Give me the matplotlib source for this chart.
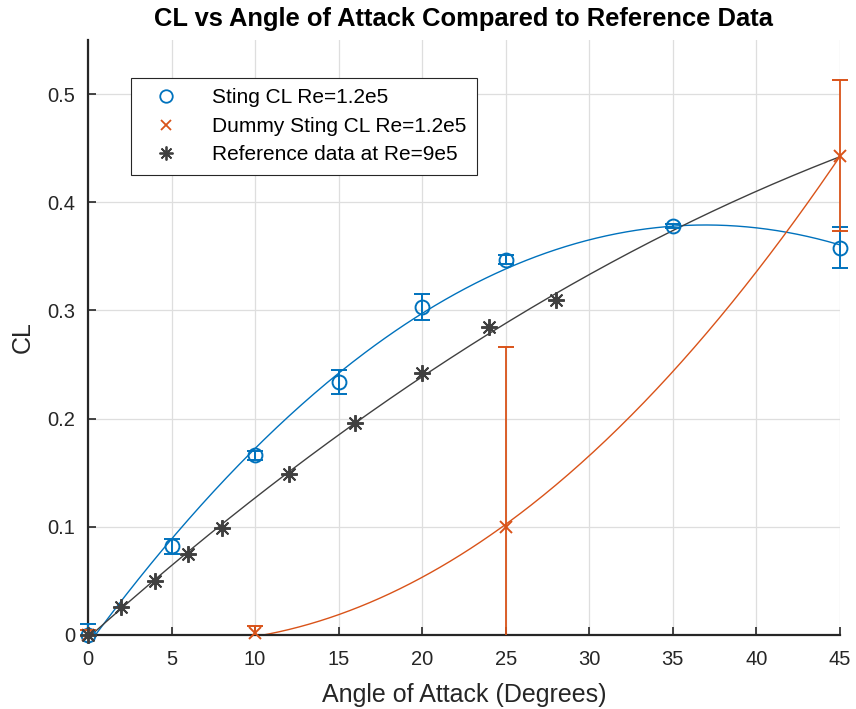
import numpy as np
import matplotlib
matplotlib.use("Agg")
import matplotlib.pyplot as plt
from matplotlib.lines import Line2D
from matplotlib.patches import Rectangle

plt.rcParams['font.family'] = ['Liberation Sans', 'DejaVu Sans']

# Sting CL Re=1.2e5
aoa_sting = [0, 5, 10, 15, 20, 25, 35, 45]
cl_sting = [0.0, 0.082, 0.166, 0.234, 0.303, 0.347, 0.378, 0.358]
err_sting = [0.010, 0.007, 0.004, 0.011, 0.012, 0.004, 0.002, 0.019]

# Dummy Sting CL Re=1.2e5
aoa_dummy = [0, 10, 25, 45]
cl_dummy = [0.0, 0.002, 0.100, 0.443]
err_dummy = [0.005, 0.006, 0.166, 0.070]

# Reference data at Re=9e5
aoa_ref = [0, 2, 4, 6, 8, 12, 16, 20, 24, 28]
cl_ref = [0.0, 0.026, 0.050, 0.075, 0.099, 0.149, 0.196, 0.242, 0.285, 0.310]

blue = '#0072BD'
orange = '#D95319'
grey = '#404040'
dark = '#262626'

fig = plt.figure(figsize=(8.56, 7.09), dpi=100)
ax = fig.add_axes([0.1028, 0.1044, 0.8785, 0.8392])

xx = np.linspace(0, 45, 300)

# polynomial trend lines
p_sting = np.polyfit(aoa_sting, cl_sting, 2)
p_dummy = np.polyfit(aoa_dummy, cl_dummy, 2)
p_ref = np.polyfit(aoa_ref, cl_ref, 2)
ax.plot(xx, np.polyval(p_sting, xx), color=blue, lw=1)
ax.plot(xx, np.polyval(p_dummy, xx), color=orange, lw=1)
ax.plot(xx, np.polyval(p_ref, xx), color=grey, lw=1)

# error bars clipped only below y=0
clip = Rectangle((-0.1, 0), 1.2, 1.2, transform=ax.transAxes,
                 facecolor='none', edgecolor='none')
ax.add_patch(clip)

eb1 = ax.errorbar(aoa_sting, cl_sting, yerr=err_sting, fmt='o', color=blue,
                  mfc='none', ms=10, mew=1.4, capsize=6, elinewidth=1.4,
                  capthick=1.4, zorder=4)
eb2 = ax.errorbar(aoa_dummy, cl_dummy, yerr=err_dummy, fmt='x', color=orange,
                  ms=8, mew=1.4, capsize=6, elinewidth=1.3, capthick=1.3,
                  zorder=5)
for eb in (eb1, eb2):
    eb.lines[0].set_clip_on(False)
    for art in list(eb.lines[1]) + list(eb.lines[2]):
        art.set_clip_path(clip)

ax.plot(aoa_ref, cl_ref, ls='none', marker=(8, 2, 0), color=grey, ms=12,
        mew=1.4, clip_on=False, zorder=6)

ax.set_xlim(0, 45)
ax.set_ylim(0, 0.55)
ax.set_xticks(np.arange(0, 46, 5))
ax.set_yticks([0, 0.1, 0.2, 0.3, 0.4, 0.5])
ax.set_yticklabels(['0', '0.1', '0.2', '0.3', '0.4', '0.5'])
ax.grid(True, color='#DEDEDE', lw=0.9)
ax.set_axisbelow(True)
ax.spines['top'].set_visible(False)
ax.spines['right'].set_visible(False)
for s in ['left', 'bottom']:
    ax.spines[s].set_linewidth(1.6)
    ax.spines[s].set_color(dark)
ax.tick_params(direction='in', length=6, width=1.2, labelsize=14.5,
               colors=dark)
ax.tick_params(axis='x', pad=11)
ax.tick_params(axis='y', pad=9)

ax.set_xlabel('Angle of Attack (Degrees)', fontsize=18, color=dark, labelpad=10)
ax.set_ylabel('CL', fontsize=18, color=dark, labelpad=9)
ax.set_title('CL vs Angle of Attack Compared to Reference Data',
             fontsize=18.4, fontweight='bold', pad=10)

handles = [
    Line2D([], [], ls='none', marker='o', mfc='none', color=blue, ms=9, mew=1.3),
    Line2D([], [], ls='none', marker='x', color=orange, ms=7, mew=1.3),
    Line2D([], [], ls='none', marker=(8, 2, 0), color=grey, ms=10, mew=1.3),
]
labels = ['Sting CL Re=1.2e5', 'Dummy Sting CL Re=1.2e5',
          'Reference data at Re=9e5']
leg = ax.legend(handles, labels, loc='upper left', bbox_to_anchor=(0.057, 0.936),
                fontsize=15, fancybox=False, edgecolor=dark,
                framealpha=1, borderpad=0.5, handletextpad=1.0,
                labelspacing=0.45, handlelength=2.4, borderaxespad=0)
leg.get_frame().set_linewidth(0.8)

fig.savefig('out.png', dpi=100)
